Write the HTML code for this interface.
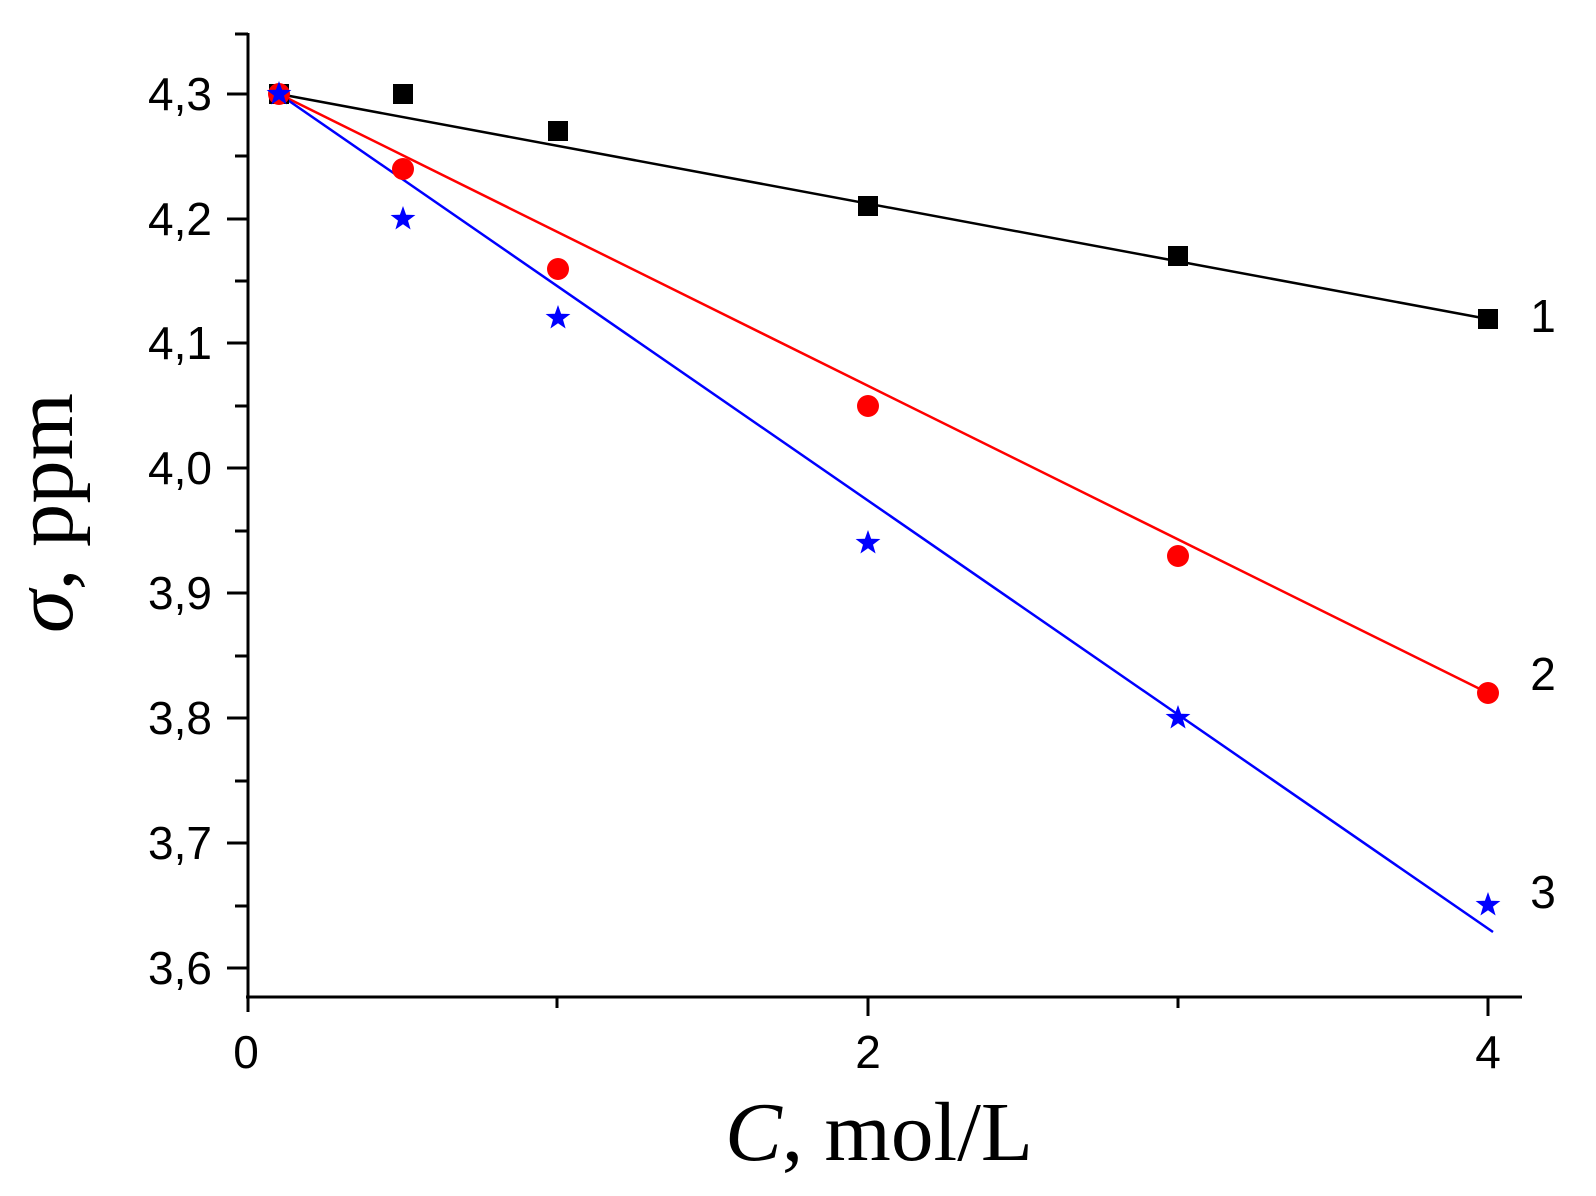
<!DOCTYPE html>
<html><head><style>body{margin:0;background:#fff}svg{display:block}</style></head><body>
<svg width="1596" height="1196" viewBox="0 0 1596 1196" xmlns="http://www.w3.org/2000/svg">
<defs>
<polygon id="star" points="0,-13 3.1,-4.2 12.4,-4 5,1.6 7.6,10.5 0,5.2 -7.6,10.5 -5,1.6 -12.4,-4 -3.1,-4.2" fill="#0000ff"/>
</defs>
<g stroke="#000" stroke-width="3" fill="none">
<line x1="248" y1="33" x2="248" y2="1012"/>
<line x1="246" y1="997" x2="1522" y2="997"/>
<line x1="227" y1="94" x2="248" y2="94"/><line x1="227" y1="219" x2="248" y2="219"/>
<line x1="227" y1="343" x2="248" y2="343"/><line x1="227" y1="468" x2="248" y2="468"/>
<line x1="227" y1="593" x2="248" y2="593"/><line x1="227" y1="718" x2="248" y2="718"/>
<line x1="227" y1="843" x2="248" y2="843"/><line x1="227" y1="968" x2="248" y2="968"/>
<line x1="235" y1="34" x2="248" y2="34"/><line x1="235" y1="156" x2="248" y2="156"/>
<line x1="235" y1="281" x2="248" y2="281"/><line x1="235" y1="406" x2="248" y2="406"/>
<line x1="235" y1="531" x2="248" y2="531"/><line x1="235" y1="656" x2="248" y2="656"/>
<line x1="235" y1="781" x2="248" y2="781"/><line x1="235" y1="906" x2="248" y2="906"/>
<line x1="868" y1="997" x2="868" y2="1016"/><line x1="1488" y1="997" x2="1488" y2="1016"/>
<line x1="557" y1="997" x2="557" y2="1008"/><line x1="1178" y1="997" x2="1178" y2="1008"/>
</g>
<g font-family="Liberation Sans, sans-serif" font-size="46" fill="#000" text-anchor="end">
<text x="212" y="110">4,3</text><text x="212" y="235">4,2</text><text x="212" y="359">4,1</text>
<text x="212" y="484">4,0</text><text x="212" y="609">3,9</text><text x="212" y="734">3,8</text>
<text x="212" y="859">3,7</text><text x="212" y="984">3,6</text>
</g>
<g font-family="Liberation Sans, sans-serif" font-size="46" fill="#000" text-anchor="middle">
<text x="246" y="1068">0</text><text x="868" y="1068">2</text><text x="1488" y="1068">4</text>
<text x="1543" y="332">1</text><text x="1543" y="690">2</text><text x="1543" y="908">3</text>
</g>
<text x="725" y="1160" font-family="Liberation Serif, serif" font-size="84" textLength="308" lengthAdjust="spacingAndGlyphs"><tspan font-style="italic">C</tspan>, mol/L</text>
<text transform="translate(72,633) rotate(-90)" font-family="Liberation Serif, serif" font-size="84" textLength="240" lengthAdjust="spacingAndGlyphs"><tspan font-style="italic">σ</tspan>, ppm</text>
<!-- lines: x(c)=248+310c, y(v)=94+(4.3-v)*1248 -->
<line x1="279" y1="94" x2="1488" y2="319" stroke="#000" stroke-width="2.5"/>
<line x1="279" y1="94" x2="1488" y2="693" stroke="#ff0000" stroke-width="2.5"/>
<line x1="279" y1="94" x2="1493" y2="932" stroke="#0000ff" stroke-width="2.5"/>
<g fill="#000">
<rect x="269" y="84" width="20" height="20"/><rect x="393" y="84" width="20" height="20"/>
<rect x="548" y="121" width="20" height="20"/><rect x="858" y="196" width="20" height="20"/>
<rect x="1168" y="246" width="20" height="20"/><rect x="1478" y="309" width="20" height="20"/>
</g>
<g fill="#ff0000">
<circle cx="279" cy="94" r="11"/><circle cx="403" cy="169" r="11"/><circle cx="558" cy="269" r="11"/>
<circle cx="868" cy="406" r="11"/><circle cx="1178" cy="556" r="11"/><circle cx="1488" cy="693" r="11"/>
</g>
<use href="#star" x="279" y="94"/><use href="#star" x="403" y="219"/><use href="#star" x="558" y="318"/>
<use href="#star" x="868" y="543"/><use href="#star" x="1178" y="718"/><use href="#star" x="1488" y="905"/>
</svg>
</body></html>
